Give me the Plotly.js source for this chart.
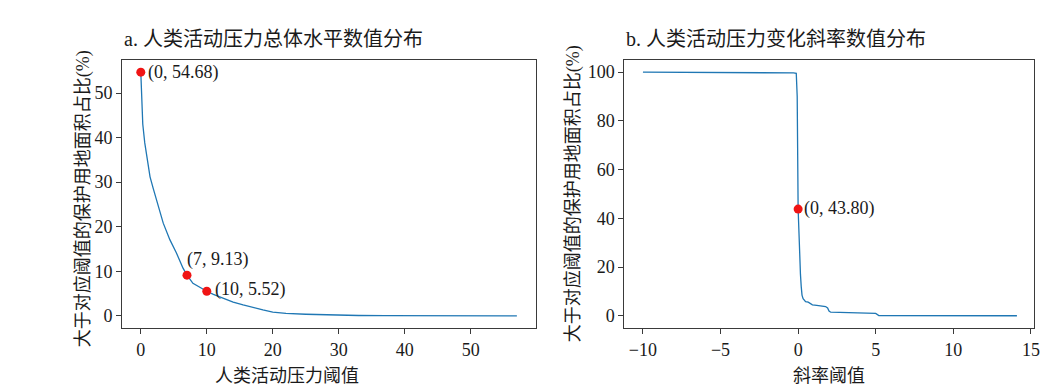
<!DOCTYPE html>
<html>
<head>
<meta charset="utf-8">
<script src="https://cdn.plot.ly/plotly-3.0.1.min.js"></script>
<style>html,body{margin:0;padding:0;background:#fff;}#chart{width:1063px;height:392px;}</style>
</head>
<body>
<div id="chart"></div>
<script>
// Panel a: overall human activity pressure threshold vs. share of protected area (%)
const pressureThreshold = [0, 0.1, 0.3, 0.6, 1.0, 1.4, 1.9, 2.3, 2.7, 3.4, 4.4, 5.4, 6.4, 7, 7.9, 9, 10, 11, 12.5, 14, 15.5, 17, 18.5, 20, 22, 25, 28, 30, 33, 37, 42, 48, 53, 57];
const pressureShare = [54.68, 48.5, 43, 38.8, 34.5, 31.2, 28.5, 26.5, 24.2, 20.8, 17.1, 14.1, 10.7, 9.13, 7.3, 6.3, 5.52, 4.8, 3.95, 3.1, 2.45, 1.85, 1.33, 0.85, 0.55, 0.35, 0.2, 0.13, 0.08, 0.05, 0.03, 0.01, 0.005, 0];
const pressureMarkX = [0, 7, 10];
const pressureMarkY = [54.68, 9.13, 5.52];

// Panel b: slope threshold vs. share of protected area (%)
const slopeThreshold = [-10, -5, -1, -0.3, -0.12, -0.06, 0, 0.08, 0.15, 0.2, 0.25, 0.32, 0.48, 0.65, 0.8, 0.92, 1.2, 1.5, 1.77, 1.9, 1.99, 2.1, 3, 4, 4.9, 5.0, 5.2, 7, 10, 14.1];
const slopeShare = [100, 99.95, 99.8, 99.7, 99.5, 90, 43.8, 25, 17, 12, 8.5, 7.0, 5.8, 5.6, 5.1, 4.5, 4.3, 4.2, 3.8, 3.2, 2.0, 1.5, 1.4, 1.3, 1.1, 1.0, 0.1, 0.08, 0.05, 0.03];
const slopeMarkX = [0];
const slopeMarkY = [43.8];

const titleA = "a. 人类活动压力总体水平数值分布";
const titleB = "b. 人类活动压力变化斜率数值分布";
const xTitleA = "人类活动压力阈值";
const xTitleB = "斜率阈值";
const yTitle = "大于对应阈值的保护用地面积占比(%)";

const FONT = "'Liberation Serif', 'Times New Roman', 'Noto Sans CJK SC', serif";
const LINE = "#1f77b4";
const RED = "#f01414";

const traces = [
  {x: pressureThreshold, y: pressureShare, xaxis: 'x', yaxis: 'y', type: 'scatter', mode: 'lines',
   line: {color: LINE, width: 1.3}, hoverinfo: 'skip'},
  {x: pressureMarkX, y: pressureMarkY, xaxis: 'x', yaxis: 'y', type: 'scatter', mode: 'markers',
   marker: {color: RED, size: 9}},
  {x: slopeThreshold, y: slopeShare, xaxis: 'x2', yaxis: 'y2', type: 'scatter', mode: 'lines',
   line: {color: LINE, width: 1.3}},
  {x: slopeMarkX, y: slopeMarkY, xaxis: 'x2', yaxis: 'y2', type: 'scatter', mode: 'markers',
   marker: {color: RED, size: 9}}
];

const fmt = (x, y) => `(${x}, ${y.toFixed(2)})`;
const annFont = {family: FONT, size: 18, color: '#1a1a1a'};
const annotations = [];
// point labels panel a
const placeA = [
  {xanchor: 'left', yanchor: 'middle', xshift: 5, yshift: 0},
  {xanchor: 'left', yanchor: 'bottom', xshift: -2, yshift: 3},
  {xanchor: 'left', yanchor: 'middle', xshift: 6, yshift: 2}
];
pressureMarkX.forEach((x, i) => {
  annotations.push(Object.assign({x: x, y: pressureMarkY[i], xref: 'x', yref: 'y', text: fmt(x, pressureMarkY[i]),
    showarrow: false, font: annFont}, placeA[i]));
});
slopeMarkX.forEach((x, i) => {
  annotations.push({x: x, y: slopeMarkY[i], xref: 'x2', yref: 'y2', text: fmt(x, slopeMarkY[i]),
    showarrow: false, font: annFont, xanchor: 'left', yanchor: 'middle', xshift: 4, yshift: 1});
});
// panel titles
annotations.push({x: 0, y: 1, xref: 'x domain', yref: 'y domain', text: titleA, showarrow: false,
  xanchor: 'left', yanchor: 'bottom', yshift: 8, font: {family: FONT, size: 20, color: '#1a1a1a'}});
annotations.push({x: 0, y: 1, xref: 'x2 domain', yref: 'y2 domain', text: titleB, showarrow: false,
  xanchor: 'left', yanchor: 'bottom', yshift: 8, font: {family: FONT, size: 20, color: '#1a1a1a'}});
// axis titles
const axFont = {family: FONT, size: 18, color: '#1a1a1a'};
annotations.push({x: 0.4, y: 0, xref: 'x domain', yref: 'y domain', text: xTitleA, showarrow: false,
  xanchor: 'center', yanchor: 'middle', yshift: -48, font: axFont});
annotations.push({x: 0.5, y: 0, xref: 'x2 domain', yref: 'y2 domain', text: xTitleB, showarrow: false,
  xanchor: 'center', yanchor: 'middle', yshift: -48, font: axFont});
annotations.push({x: 0, y: 0.48, xref: 'x domain', yref: 'y domain', text: yTitle, showarrow: false,
  textangle: -90, xanchor: 'center', yanchor: 'middle', xshift: -39, font: axFont});
annotations.push({x: 0, y: 0.5, xref: 'x2 domain', yref: 'y2 domain', text: yTitle, showarrow: false,
  textangle: -90, xanchor: 'center', yanchor: 'middle', xshift: -51, font: axFont});

const tickFont = {family: FONT, size: 18, color: '#1a1a1a'};
const axBase = {showline: true, mirror: true, linecolor: '#3a3a3a', linewidth: 1, showgrid: false, zeroline: false,
  ticks: 'outside', ticklen: 5, tickwidth: 1, tickcolor: '#3a3a3a', tickfont: tickFont};

const layout = {
  width: 1063, height: 392,
  margin: {l: 122, r: 29, t: 60, b: 64},
  paper_bgcolor: '#fff', plot_bgcolor: '#fff',
  showlegend: false,
  font: {family: FONT},
  xaxis: Object.assign({}, axBase, {domain: [0, 0.4536], range: [-2.85, 59.85], tickvals: [0, 10, 20, 30, 40, 50], anchor: 'y'}),
  yaxis: Object.assign({}, axBase, {domain: [0, 1], range: [-2.73, 57.41], tickvals: [0, 10, 20, 30, 40, 50], anchor: 'x'}),
  xaxis2: Object.assign({}, axBase, {domain: [0.5508, 1], range: [-11.2, 15.2], tickvals: [-10, -5, 0, 5, 10, 15],
    ticktext: ['\u221210', '\u22125', '0', '5', '10', '15'], anchor: 'y2'}),
  yaxis2: Object.assign({}, axBase, {domain: [0, 1], range: [-5, 105], tickvals: [0, 20, 40, 60, 80, 100], anchor: 'x2'}),
  annotations: annotations
};

Plotly.newPlot('chart', traces, layout, {displayModeBar: false, staticPlot: true});
</script>
</body>
</html>
